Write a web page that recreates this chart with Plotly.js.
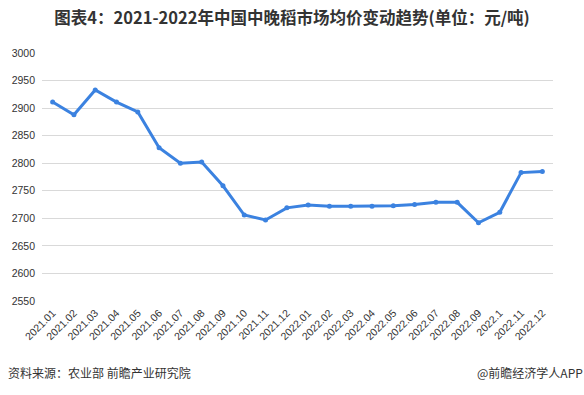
<!DOCTYPE html>
<html><head><meta charset="utf-8">
<script src="https://cdn.plot.ly/plotly-3.0.1.min.js"></script>
<style>html,body{margin:0;padding:0;background:#fff;}#c{width:584px;height:395px;}</style>
</head><body><div id="c"></div>
<script>
const months = ["2021.01","2021.02","2021.03","2021.04","2021.05","2021.06","2021.07","2021.08","2021.09","2021.10","2021.11","2021.12","2022.01","2022.02","2022.03","2022.04","2022.05","2022.06","2022.07","2022.08","2022.09","2022.1","2022.11","2022.12"];
const prices = [2911,2888,2933,2911,2893,2828,2800,2802,2759,2706,2697,2719,2724,2722,2722,2722,2723,2725,2729,2729,2692,2711,2783,2785];
const yTicks = [2550,2600,2650,2700,2750,2800,2850,2900,2950,3000];

const trace = {
  x: months, y: prices, type: "scatter", mode: "lines+markers",
  line: {color: "#3b82e0", width: 3},
  marker: {color: "#3b82e0", size: 5},
  hoverinfo: "none"
};
const layout = {
  width: 584, height: 395,
  margin: {l: 42, r: 31, t: 53, b: 94},
  paper_bgcolor: "#fff", plot_bgcolor: "#fff",
  showlegend: false,
  title: {text: "<b>图表4：2021-2022年中国中晚稻市场均价变动趋势(单位：元/吨)</b>",
    font: {family: "Noto Sans CJK SC, sans-serif", size: 16.5, color: "#333"},
    x: 0.5, xanchor: "center", y: 0.955, yanchor: "middle"},
  xaxis: {type: "category", range: [-0.5, 23.5], tickangle: -45,
    tickfont: {family: "Liberation Sans, Arial, sans-serif", size: 10.5, color: "#333"},
    showgrid: false, zeroline: false, showline: false, ticks: "", ticklen: 0,
    ticklabelstandoff: 3},
  yaxis: {range: [2550, 3000], tickvals: yTicks, ticktext: yTicks.map(String),
    tickfont: {family: "Liberation Sans, Arial, sans-serif", size: 10.5, color: "#333"},
    gridcolor: "#d9d9d9", gridwidth: 1, zeroline: false, showline: false, ticks: "",
    ticklabelstandoff: 6},
  annotations: [
    {text: "资料来源：农业部 前瞻产业研究院", xref: "paper", yref: "paper", x: -0.07, y: -0.29,
     xanchor: "left", yanchor: "middle", showarrow: false,
     font: {family: "Noto Sans CJK SC, sans-serif", size: 12, color: "#333"}},
    {text: "@前瞻经济学人APP", xref: "paper", yref: "paper", x: 1.062, y: -0.29,
     xanchor: "right", yanchor: "middle", showarrow: false,
     font: {family: "Noto Sans CJK SC, sans-serif", size: 12, color: "#333"}}
  ]
};
Plotly.newPlot("c", [trace], layout, {staticPlot: true, displayModeBar: false});
</script></body></html>
